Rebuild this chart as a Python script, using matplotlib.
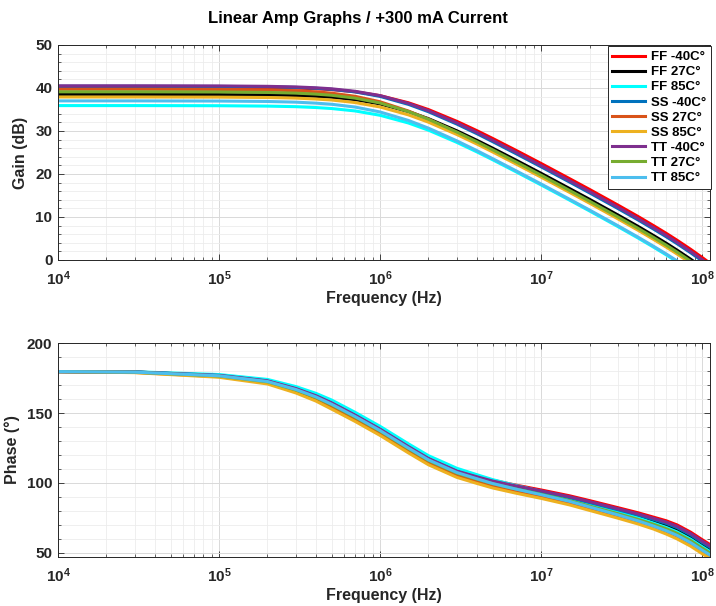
import math
import matplotlib
matplotlib.use('Agg')
import matplotlib.pyplot as plt
from matplotlib.ticker import FixedLocator, LogLocator, MultipleLocator, FuncFormatter, NullFormatter

# frequency points (Hz) shared by every trace
freq = [1e4, 3e4, 1e5, 2e5, 3e5, 4e5, 5e5, 7e5, 1e6, 1.5e6, 2e6, 3e6, 4e6, 5e6, 7e6,
        1e7, 1.5e7, 2e7, 3e7, 4e7, 5e7, 6e7, 7e7, 8.5e7, 1e8, 1.12e8]

labels = ['FF -40C°', 'FF 27C°', 'FF 85C°', 'SS -40C°', 'SS 27C°', 'SS 85C°',
          'TT -40C°', 'TT 27C°', 'TT 85C°']
colors = ['#ff0000', '#000000', '#00ffff', '#0072bd', '#d95319', '#edb120',
          '#7e2f8e', '#77ac30', '#4dbeee']

# gain (dB)
gain_ff_m40 = [40.2, 40.2, 40.17, 40.1, 39.98, 39.81, 39.61, 39.11, 38.21, 36.56, 34.97, 32.24, 30.06,
               28.27, 25.48, 22.45, 18.93, 16.41, 12.77, 10.12, 7.98, 6.18, 4.58, 2.47, 0.59, -0.77]
gain_ff_27 = [38.5, 38.5, 38.47, 38.39, 38.25, 38.06, 37.83, 37.28, 36.29, 34.52, 32.85, 30.04, 27.82,
              26.01, 23.2, 20.16, 16.63, 14.11, 10.47, 7.82, 5.68, 3.88, 2.28, 0.17, -1.71, -3.07]
gain_ff_85 = [35.9, 35.9, 35.87, 35.78, 35.65, 35.45, 35.22, 34.66, 33.65, 31.86, 30.18, 27.35, 25.13,
              23.32, 20.5, 17.46, 13.94, 11.41, 7.77, 5.12, 2.98, 1.18, -0.42, -2.53, -4.41, -5.77]
gain_ss_m40 = [40.4, 40.4, 40.36, 40.28, 40.13, 39.93, 39.68, 39.09, 38.04, 36.19, 34.47, 31.6, 29.36,
               27.53, 24.71, 21.67, 18.14, 15.61, 11.97, 9.32, 7.18, 5.38, 3.78, 1.67, -0.21, -1.57]
gain_ss_27 = [39.7, 39.7, 39.66, 39.54, 39.36, 39.1, 38.79, 38.06, 36.79, 34.64, 32.72, 29.64, 27.3,
              25.43, 22.57, 19.49, 15.95, 13.42, 9.77, 7.12, 4.98, 3.18, 1.58, -0.53, -2.41, -3.77]
gain_ss_85 = [37.9, 37.9, 37.87, 37.78, 37.64, 37.43, 37.2, 36.61, 35.58, 33.75, 32.04, 29.18, 26.95,
              25.13, 22.31, 19.27, 15.74, 13.21, 9.57, 6.92, 4.78, 2.98, 1.38, -0.73, -2.61, -3.97]
gain_tt_m40 = [40.5, 40.5, 40.47, 40.38, 40.24, 40.04, 39.81, 39.23, 38.22, 36.41, 34.71, 31.87, 29.64,
               27.82, 25.01, 21.96, 18.44, 15.91, 12.27, 9.62, 7.48, 5.68, 4.08, 1.97, 0.09, -1.27]
gain_tt_27 = [39.1, 39.1, 39.06, 38.96, 38.8, 38.57, 38.3, 37.64, 36.5, 34.52, 32.72, 29.75, 27.47,
              25.63, 22.79, 19.73, 16.19, 13.67, 10.02, 7.37, 5.23, 3.43, 1.83, -0.28, -2.16, -3.52]
gain_tt_85 = [37.0, 37.0, 36.96, 36.86, 36.7, 36.47, 36.21, 35.56, 34.42, 32.45, 30.65, 27.7, 25.42,
              23.57, 20.73, 17.68, 14.14, 11.62, 7.97, 5.32, 3.18, 1.38, -0.22, -2.33, -4.21, -5.57]

# phase (deg)
phase_ff_m40 = [179.6, 179.35, 177.05, 173.25, 167.85, 162.78, 157.8, 149.0, 139.0, 126.5, 118.0, 109.0, 104.95,
                101.95, 98.43, 95.0, 90.85, 87.4, 82.35, 78.7, 75.55, 72.95, 70.0, 64.8, 59.5, 56.0]
phase_ff_27 = [179.6, 179.3, 176.9, 173.0, 167.5, 162.35, 157.3, 148.5, 138.5, 126.0, 117.5, 108.5, 104.22,
               101.03, 97.23, 93.53, 89.08, 85.33, 79.98, 76.03, 72.58, 69.63, 66.5, 61.3, 56.0, 52.5]
phase_ff_85 = [179.6, 179.5, 177.5, 174.0, 168.9, 164.05, 159.3, 150.5, 140.5, 128.0, 119.5, 110.5, 105.9,
               102.4, 98.15, 94.0, 89.2, 85.1, 79.4, 75.1, 71.3, 68.2, 65.0, 59.8, 54.5, 51.0]
phase_ss_m40 = [179.6, 179.25, 176.75, 172.75, 167.15, 161.93, 156.8, 148.0, 138.0, 125.5, 117.0, 108.0, 103.89,
                100.85, 97.28, 93.8, 89.55, 86.0, 80.85, 77.1, 73.85, 71.05, 68.0, 62.8, 57.5, 54.0]
phase_ss_27 = [179.6, 179.0, 176.0, 171.5, 165.4, 159.8, 154.3, 145.5, 135.5, 123.0, 114.5, 105.5, 101.16,
               97.95, 94.15, 90.45, 85.85, 81.95, 76.45, 72.35, 68.75, 65.35, 62.0, 56.8, 51.5, 48.0]
phase_ss_85 = [179.6, 178.85, 175.55, 170.75, 164.35, 158.53, 152.8, 144.0, 134.0, 121.5, 113.0, 104.0, 99.65,
               96.45, 92.68, 89.0, 84.35, 80.4, 74.85, 70.7, 67.05, 63.45, 60.0, 54.8, 49.5, 46.0]
phase_tt_m40 = [179.6, 179.3, 176.9, 173.0, 167.5, 162.35, 157.3, 148.5, 138.5, 126.0, 117.5, 108.5, 104.42,
                101.4, 97.85, 94.4, 90.2, 86.7, 81.6, 77.9, 74.7, 72.0, 69.0, 63.8, 58.5, 55.0]
phase_tt_27 = [179.6, 179.15, 176.45, 172.25, 166.45, 161.08, 155.8, 147.0, 137.0, 124.5, 116.0, 107.0, 102.67,
               99.45, 95.63, 91.9, 87.35, 83.5, 78.05, 74.0, 70.45, 67.25, 64.0, 58.8, 53.5, 50.0]
phase_tt_85 = [179.6, 179.2, 176.6, 172.5, 166.8, 161.5, 156.3, 147.5, 137.5, 125.0, 116.5, 107.5, 103.0,
               99.63, 95.58, 91.63, 86.88, 82.83, 77.18, 72.93, 69.18, 65.83, 62.5, 57.3, 52.0, 48.5]

gains = [gain_ff_m40, gain_ff_27, gain_ff_85, gain_ss_m40, gain_ss_27, gain_ss_85,
         gain_tt_m40, gain_tt_27, gain_tt_85]
phases = [phase_ff_m40, phase_ff_27, phase_ff_85, phase_ss_m40, phase_ss_27, phase_ss_85,
          phase_tt_m40, phase_tt_27, phase_tt_85]

plt.rcParams['font.family'] = ['Liberation Sans', 'DejaVu Sans']
plt.rcParams['font.weight'] = 'bold'
plt.rcParams['axes.labelweight'] = 'bold'
plt.rcParams['mathtext.fontset'] = 'custom'
plt.rcParams['mathtext.rm'] = 'Liberation Sans:bold'
plt.rcParams['mathtext.it'] = 'Liberation Sans:bold'
plt.rcParams['mathtext.bf'] = 'Liberation Sans:bold'

INK = '#262626'


def style_axis(ax, ylim, ymajor, yminor, ylabel):
    ax.set_xscale('log')
    ax.set_xlim(1e4, 1.12e8)
    ax.set_ylim(*ylim)
    ax.xaxis.set_major_locator(FixedLocator([1e4, 1e5, 1e6, 1e7, 1e8]))
    ax.xaxis.set_minor_locator(LogLocator(base=10, subs=range(2, 10)))
    ax.xaxis.set_major_formatter(FuncFormatter(lambda v, p: r'$10^{%d}$' % round(math.log10(v))))
    ax.xaxis.set_minor_formatter(NullFormatter())
    ax.yaxis.set_major_locator(MultipleLocator(ymajor))
    ax.yaxis.set_minor_locator(MultipleLocator(yminor))
    ax.grid(True, which='major', color='#d9d9d9', lw=0.7)
    ax.grid(True, which='minor', color='#ececec', lw=0.6)
    ax.set_axisbelow(True)
    ax.tick_params(which='both', direction='in', top=True, right=True, color=INK,
                   labelsize=11, labelcolor=INK)
    ax.tick_params(which='major', length=4, width=0.6)
    ax.tick_params(which='minor', length=2, width=0.5)
    ax.tick_params(axis='x', pad=7)
    ax.tick_params(axis='y', pad=4)
    for s in ax.spines.values():
        s.set_color(INK)
        s.set_linewidth(0.7)
    ax.set_xlabel('Frequency (Hz)', fontsize=11.5, color=INK, labelpad=2)
    ax.set_ylabel(ylabel, fontsize=11.5, color=INK, labelpad=5)


fig = plt.figure(figsize=(7.16, 6.06), dpi=100)
ax1 = fig.add_axes([0.081, 0.571, 0.9106, 0.3548])
ax2 = fig.add_axes([0.081, 0.0809, 0.9106, 0.353])

for g, p, lab, c in zip(gains, phases, labels, colors):
    ax1.plot(freq, g, color=c, lw=2.2, label=lab)
    ax2.plot(freq, p, color=c, lw=2.2)

style_axis(ax1, (0, 50), 10, 2, 'Gain (dB)')
style_axis(ax2, (47.1, 200), 50, 10, 'Phase (°)')

leg = ax1.legend(loc='upper right', bbox_to_anchor=(1.003, 1.0), fontsize=9.5,
                 handlelength=2.5, labelspacing=0.22, borderpad=0.35,
                 handletextpad=0.4, fancybox=False, framealpha=1, borderaxespad=0.1)
leg.get_frame().set_edgecolor(INK)
leg.get_frame().set_linewidth(0.7)

fig.text(0.5, 1 - 18 / 606, 'Linear Amp Graphs / +300 mA Current', ha='center', va='center',
         fontsize=12, fontweight='bold')

fig.savefig('out.png', dpi=100)
